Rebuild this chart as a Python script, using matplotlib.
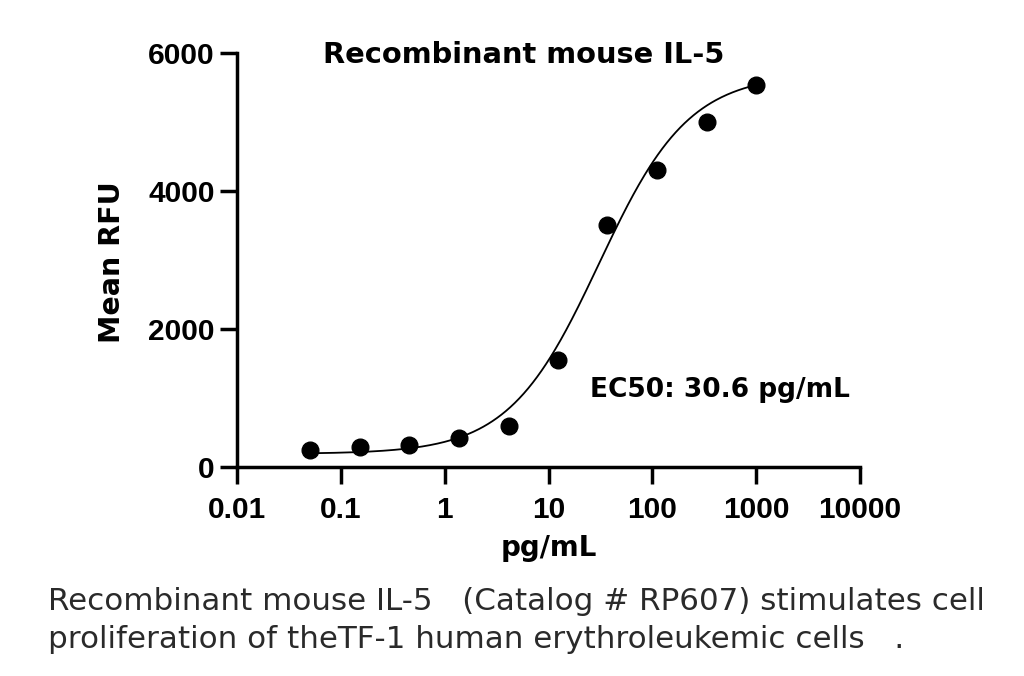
import numpy as np
import matplotlib
matplotlib.use("Agg")
import matplotlib.pyplot as plt

# Data (3-fold dilution series)
conc = [0.0508, 0.152, 0.457, 1.37, 4.12, 12.3, 37.0, 111.0, 333.0, 1000.0]
rfu = [245, 290, 320, 420, 595, 1550, 3505, 4305, 5000, 5535]

# 4PL fit parameters
fit_bottom = 190
fit_top = 5700
fit_ec50 = 30.6
fit_hill = 1.0

title = "Recombinant mouse IL-5"
xlabel = "pg/mL"
ylabel = "Mean RFU"
ec50_text = "EC50: 30.6 pg/mL"
xticks = [0.01, 0.1, 1, 10, 100, 1000, 10000]
xticklabels = ["0.01", "0.1", "1", "10", "100", "1000", "10000"]
yticks = [0, 2000, 4000, 6000]
caption1 = "Recombinant mouse IL-5   (Catalog # RP607) stimulates cell"
caption2 = "proliferation of theTF-1 human erythroleukemic cells   ."

plt.rcParams['font.family'] = ['Liberation Sans', 'DejaVu Sans']
WIDE = ['DejaVu Sans']

fig = plt.figure(figsize=(10.24, 6.76), dpi=100)
ax = fig.add_axes([237/1024, 1-467/676, 623/1024, 414/676])

xs = np.logspace(np.log10(conc[0]), np.log10(conc[-1]), 400)
ys = fit_bottom + (fit_top - fit_bottom) / (1 + (fit_ec50 / xs) ** fit_hill)
ax.plot(xs, ys, color='black', lw=1.3, zorder=2)
ax.plot(conc, rfu, 'o', color='black', ms=12, zorder=3, clip_on=False)

ax.set_xscale('log')
ax.set_xlim(0.01, 10000)
ax.set_ylim(0, 6000)
ax.set_xticks(xticks)
ax.set_xticklabels(xticklabels)
ax.minorticks_off()
ax.set_yticks(yticks)
ax.set_yticklabels([str(v) for v in yticks])

for s in ['top', 'right']:
    ax.spines[s].set_visible(False)
for s in ['left', 'bottom']:
    ax.spines[s].set_linewidth(2.5)
ax.tick_params(axis='both', which='major', direction='out', length=12, width=2.5,
               labelsize=21.5)
ax.tick_params(axis='x', pad=9)
ax.tick_params(axis='y', pad=4)
for lab in ax.get_xticklabels() + ax.get_yticklabels():
    lab.set_fontweight('bold')

ax.set_xlabel(xlabel, fontsize=20, fontweight='bold', family=WIDE, va='baseline')
ax.xaxis.set_label_coords((549-237)/623, (467-556)/414)
ax.set_ylabel(ylabel, fontsize=20.5, fontweight='bold', family=WIDE, va='center')
ax.yaxis.set_label_coords((112-237)/623, (467-262)/414)

ax.text((523.5-237)/623, (467-63)/414, title, transform=ax.transAxes, ha='center',
        va='baseline', fontsize=20.8, fontweight='bold', family=WIDE)
ax.text((590-237)/623, (467-397)/414, ec50_text, transform=ax.transAxes,
        ha='left', va='baseline', fontsize=19, fontweight='bold', family=WIDE)

fig.text(48/1024, 1-610/676, caption1, ha='left', va='baseline',
         fontsize=22.3, color='#2a2a2a', family=WIDE)
fig.text(48/1024, 1-648/676, caption2, ha='left', va='baseline',
         fontsize=22.3, color='#2a2a2a', family=WIDE)

fig.savefig('out.png', dpi=100)
